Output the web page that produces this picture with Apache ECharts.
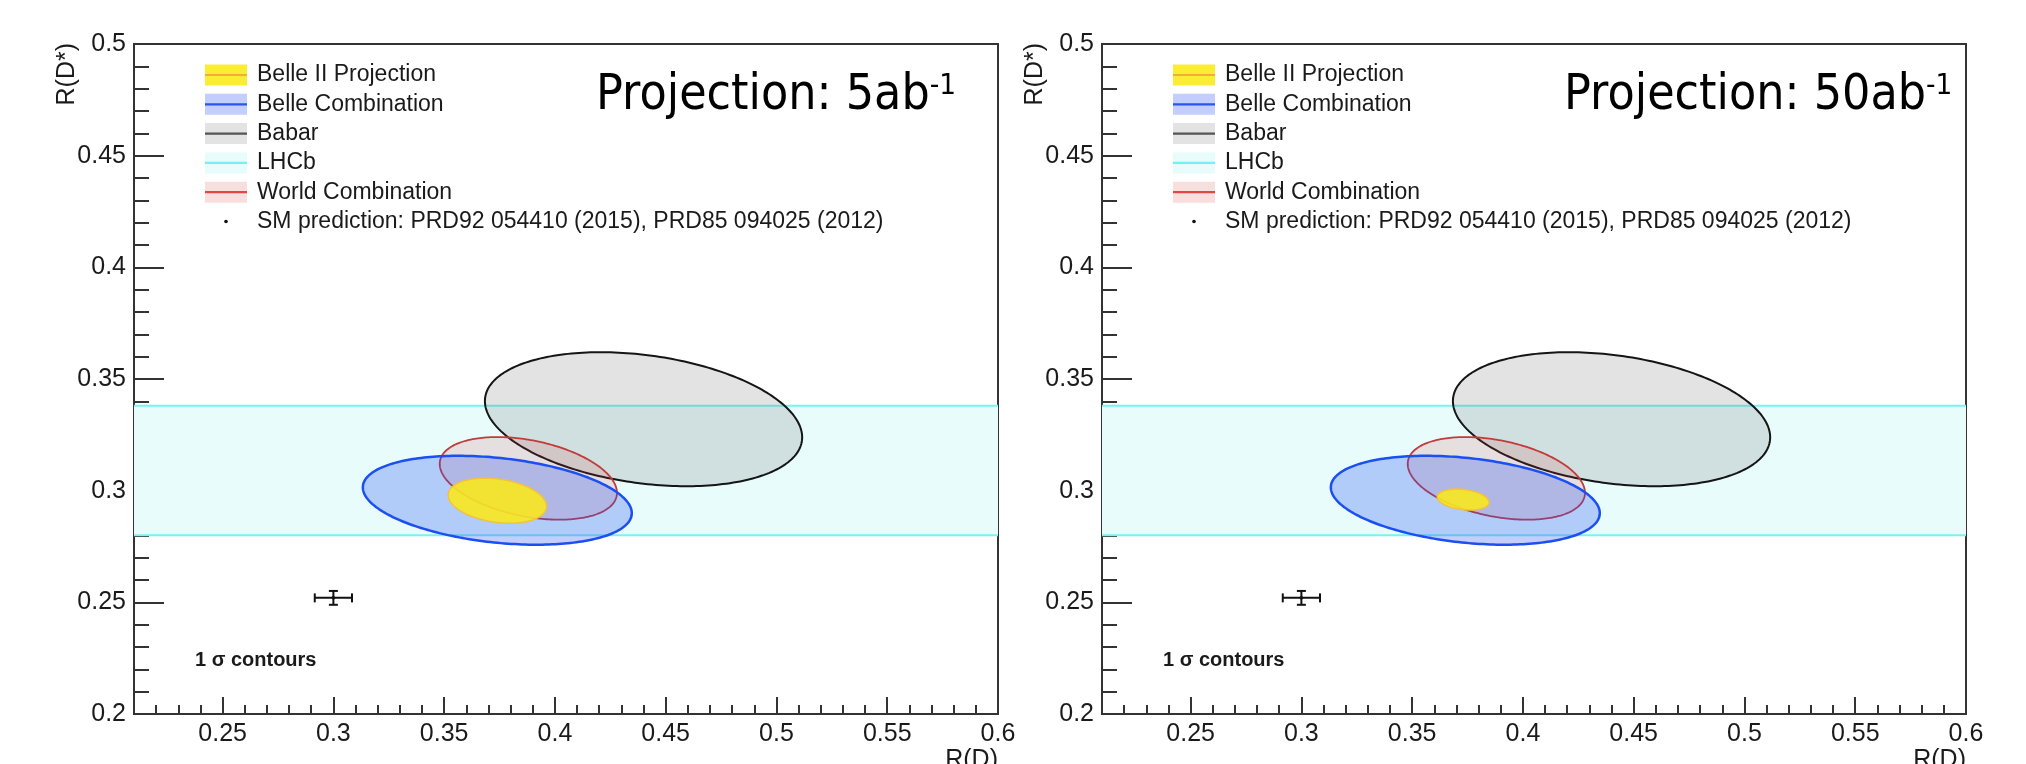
<!DOCTYPE html>
<html><head><meta charset="utf-8">
<script src="https://cdn.jsdelivr.net/npm/echarts@6/dist/echarts.min.js"></script>
<style>html,body{margin:0;padding:0;background:#fff}#c{width:2026px;height:764px}</style>
</head><body><div id="c"></div>
<script>
// ---------------- data ----------------
const xTickLabels = [0.25, 0.3, 0.35, 0.4, 0.45, 0.5, 0.55, 0.6];
const yTickLabels = [0.2, 0.25, 0.3, 0.35, 0.4, 0.45, 0.5];
const panelLumi = ['5', '50'];
// ellipse parameters: [R(D), R(D*), sigma R(D), sigma R(D*), correlation]
const babar = [0.440, 0.332, 0.0716, 0.0300, -0.27];
const worldComb = [0.388, 0.3055, 0.0400, 0.0185, -0.35];
const belleComb = [0.374, 0.2957, 0.0607, 0.0199, -0.29];
const belle2Proj5 = [0.374, 0.2955, 0.0222, 0.0101, -0.25];
const belle2Proj50 = [0.373, 0.2960, 0.0117, 0.0047, -0.25];
// LHCb R(D*) band [low, high]
const lhcbBand = [0.280, 0.338];
// SM prediction: [R(D), R(D*), err R(D), err R(D*)]
const smPrediction = [0.300, 0.252, 0.0084, 0.0031];
const legendLabels = ['Belle II Projection', 'Belle Combination', 'Babar', 'LHCb', 'World Combination',
  'SM prediction: PRD92 054410 (2015), PRD85 094025 (2012)'];

// ---------------- layout / style ----------------
const FONT = 'Liberation Sans, Arial, Helvetica, sans-serif';
const grids = [
  {left: 134, top: 44, width: 864, height: 670},
  {left: 1102, top: 44, width: 864, height: 670}
];
const AX = '#333';

const legendStyle = [
  {fill: 'rgba(250,236,40,0.95)', line: '#f2ac3a'},
  {fill: 'rgba(40,80,245,0.28)', line: '#2a55f0'},
  {fill: 'rgba(100,100,100,0.18)', line: '#555'},
  {fill: '#e8fcfc', line: '#74f0f2'},
  {fill: 'rgba(220,60,60,0.17)', line: '#e04848'}
];

function ellipseRenderer(fill, stroke, lw) {
  return function (params, api) {
    const cx = api.value(0), cy = api.value(1), sx = api.value(2), sy = api.value(3), r = api.value(4);
    const pts = [];
    const N = 240;
    const k = Math.sqrt(1 - r * r);
    for (let i = 0; i < N; i++) {
      const t = 2 * Math.PI * i / N;
      pts.push(api.coord([cx + sx * Math.cos(t), cy + sy * (r * Math.cos(t) + k * Math.sin(t))]));
    }
    return {type: 'polygon', shape: {points: pts}, style: {fill: fill, stroke: stroke, lineWidth: lw}};
  };
}

function bandRenderer(params, api) {
  const cs = params.coordSys;
  const yLo = api.coord([xTickLabels[0], api.value(0)])[1];
  const yHi = api.coord([xTickLabels[0], api.value(1)])[1];
  return {
    type: 'group', children: [
      {type: 'rect', shape: {x: cs.x, y: yHi, width: cs.width, height: yLo - yHi}, style: {fill: '#e8fcfc'}},
      {type: 'line', shape: {x1: cs.x, y1: yHi, x2: cs.x + cs.width, y2: yHi}, style: {stroke: '#7ef0f3', lineWidth: 2}},
      {type: 'line', shape: {x1: cs.x, y1: yLo, x2: cs.x + cs.width, y2: yLo}, style: {stroke: '#7ef0f3', lineWidth: 2}}
    ]
  };
}

function smRenderer(params, api) {
  const x = api.value(0), y = api.value(1), ex = api.value(2), ey = api.value(3);
  const L = api.coord([x - ex, y]), R = api.coord([x + ex, y]);
  const B = api.coord([x, y - ey]), T = api.coord([x, y + ey]);
  const C = api.coord([x, y]);
  const st = {stroke: '#111', lineWidth: 2};
  const cap = 4.5;
  return {
    type: 'group', children: [
      {type: 'line', shape: {x1: L[0], y1: L[1], x2: R[0], y2: R[1]}, style: st},
      {type: 'line', shape: {x1: B[0], y1: B[1], x2: T[0], y2: T[1]}, style: st},
      {type: 'line', shape: {x1: L[0], y1: L[1] - cap, x2: L[0], y2: L[1] + cap}, style: st},
      {type: 'line', shape: {x1: R[0], y1: R[1] - cap, x2: R[0], y2: R[1] + cap}, style: st},
      {type: 'line', shape: {x1: T[0] - cap, y1: T[1], x2: T[0] + cap, y2: T[1]}, style: st},
      {type: 'line', shape: {x1: B[0] - cap, y1: B[1], x2: B[0] + cap, y2: B[1]}, style: st},
      {type: 'circle', shape: {cx: C[0], cy: C[1], r: 1.8}, style: {fill: '#111'}}
    ]
  };
}

const xAxes = [], yAxes = [], series = [], graphics = [];
grids.forEach(function (g, p) {
  // main x axis (major ticks + labels)
  xAxes.push({
    type: 'value', gridIndex: p, min: 0.21, max: 0.6, position: 'bottom',
    axisLine: {show: true, onZero: false, lineStyle: {color: AX, width: 2}},
    axisTick: {show: true, inside: true, length: 17, lineStyle: {color: AX, width: 2}, customValues: xTickLabels},
    axisLabel: {show: true, customValues: xTickLabels, fontSize: 25, fontFamily: FONT, color: '#1a1a1a', margin: 8,
      formatter: function (v) { return String(+v.toFixed(2)); }},
    splitLine: {show: false}
  });
  // minor x ticks
  xAxes.push({
    type: 'value', gridIndex: p, min: 0.21, max: 0.6, interval: 0.01, position: 'bottom', offset: 0,
    axisLine: {show: false},
    axisTick: {show: true, inside: true, length: 9, lineStyle: {color: AX, width: 2}},
    axisLabel: {show: false}, splitLine: {show: false}
  });
  yAxes.push({
    type: 'value', gridIndex: p, min: yTickLabels[0], max: yTickLabels[yTickLabels.length - 1], interval: 0.05,
    axisLine: {show: true, onZero: false, lineStyle: {color: AX, width: 2}},
    axisTick: {show: true, inside: true, length: 30, lineStyle: {color: AX, width: 2}},
    minorTick: {show: true, splitNumber: 5, length: 15, lineStyle: {color: AX, width: 2}},
    axisLabel: {fontSize: 25, fontFamily: FONT, color: '#1a1a1a', margin: 8},
    splitLine: {show: false}, minorSplitLine: {show: false}
  });
  const xi = p * 2, yi = p;
  series.push({type: 'custom', name: 'LHCb', xAxisIndex: xi, yAxisIndex: yi, data: [lhcbBand],
    encode: {y: [0, 1]}, renderItem: bandRenderer, silent: true, z: 1});
  series.push({type: 'custom', name: 'Babar', xAxisIndex: xi, yAxisIndex: yi, data: [babar],
    renderItem: ellipseRenderer('rgba(100,100,100,0.18)', '#151515', 2), silent: true, z: 2});
  series.push({type: 'custom', name: 'World Combination', xAxisIndex: xi, yAxisIndex: yi, data: [worldComb],
    renderItem: ellipseRenderer('rgba(220,60,60,0.15)', '#c23a3a', 1.8), silent: true, z: 3});
  series.push({type: 'custom', name: 'Belle Combination', xAxisIndex: xi, yAxisIndex: yi, data: [belleComb],
    renderItem: ellipseRenderer('rgba(40,80,245,0.28)', '#1b4ff2', 2.5), silent: true, z: 4});
  series.push({type: 'custom', name: 'Belle II Projection', xAxisIndex: xi, yAxisIndex: yi,
    data: [p === 0 ? belle2Proj5 : belle2Proj50],
    renderItem: ellipseRenderer('rgba(250,232,30,0.9)', '#f2c23a', 1.5), silent: true, z: 5});
  series.push({type: 'custom', name: 'SM prediction', xAxisIndex: xi, yAxisIndex: yi, data: [smPrediction],
    renderItem: smRenderer, silent: true, z: 6});

  // legend (drawn inside the frame, ROOT style)
  const lx = g.left + 71, ly0 = g.top + 31, dy = 29.3;
  legendLabels.forEach(function (lab, i) {
    const y = ly0 + i * dy;
    if (i < 5) {
      graphics.push({type: 'rect', shape: {x: lx, y: y - 10.5, width: 42, height: 21}, style: {fill: legendStyle[i].fill}, z: 10});
      graphics.push({type: 'line', shape: {x1: lx, y1: y, x2: lx + 42, y2: y}, style: {stroke: legendStyle[i].line, lineWidth: 2.2}, z: 11});
    } else {
      graphics.push({type: 'circle', shape: {cx: lx + 21, cy: y, r: 1.8}, style: {fill: '#111'}, z: 11});
    }
    graphics.push({type: 'text', x: lx + 52, y: y, z: 11,
      style: {text: lab, font: '23px ' + FONT, fill: '#1a1a1a', align: 'left', verticalAlign: 'middle'}});
  });
  // projection label
  graphics.push({type: 'text', x: g.left + 462, y: g.top + 52, scaleX: 0.91, z: 11,
    style: {text: '{m|Projection: ' + panelLumi[p] + 'ab}{s|-1}', align: 'left', verticalAlign: 'middle',
      rich: {m: {fontSize: 49, fontFamily: 'DejaVu Sans', fill: '#000'},
             s: {fontSize: 29, fontFamily: 'DejaVu Sans', fill: '#000', verticalAlign: 'top', lineHeight: 21}}}});
  // 1 sigma contours
  graphics.push({type: 'text', x: g.left + 61, y: g.top + 616, z: 11,
    style: {text: '1 σ contours', font: 'bold 20px ' + FONT, fill: '#1a1a1a', align: 'left', verticalAlign: 'middle'}});
  // axis titles
  graphics.push({type: 'text', x: g.left + g.width, y: g.top + g.height + 34, z: 11,
    style: {text: 'R(D)', font: '25px ' + FONT, fill: '#1a1a1a', align: 'right', verticalAlign: 'top'}});
  graphics.push({type: 'text', x: g.left - 67, y: g.top - 1, rotation: Math.PI / 2, z: 11,
    style: {text: 'R(D*)', font: '25px ' + FONT, fill: '#1a1a1a', align: 'right', verticalAlign: 'middle'}});
});

const chart = echarts.init(document.getElementById('c'), null, {renderer: 'canvas'});
chart.setOption({
  animation: false,
  backgroundColor: '#fff',
  grid: grids.map(function (g) {
    return Object.assign({show: true, borderColor: AX, borderWidth: 2, backgroundColor: 'transparent', containLabel: false}, g);
  }),
  xAxis: xAxes,
  yAxis: yAxes,
  series: series,
  graphic: graphics
});
</script></body></html>
